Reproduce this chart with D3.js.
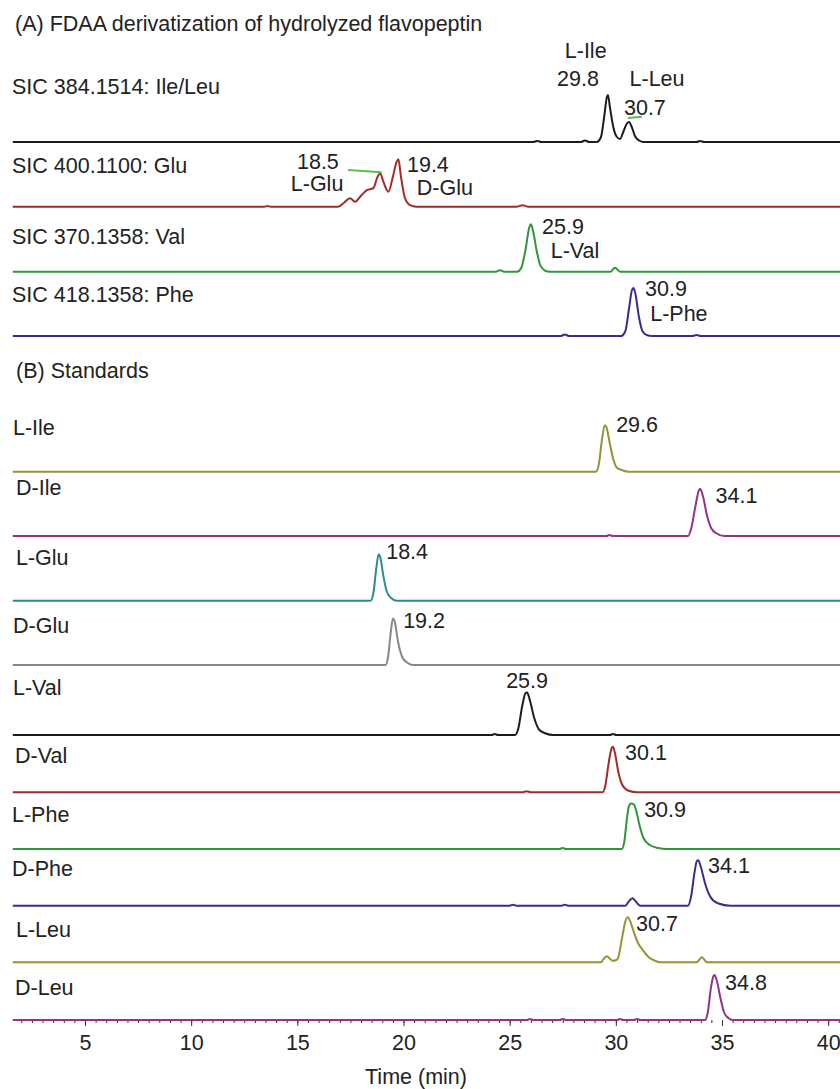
<!DOCTYPE html>
<html>
<head>
<meta charset="utf-8">
<script src="https://cdn.jsdelivr.net/npm/d3@7"></script>
<style>
    body { margin: 0; background: #fff; }
    text { font-family: "Liberation Sans", Arial, sans-serif; fill: #222; }
</style>
</head>
<body>
<script>
// ---------------------------------------------------------------------------
// Data: each trace is a list of [time (min), relative intensity] read off
// the picture. 100 is a full height peak.
// ---------------------------------------------------------------------------
var panelTitles = ["(A) FDAA derivatization of hydrolyzed flavopeptin",
                   "(B) Standards"];

var sampleNames = ["SIC 384.1514: Ile/Leu", "SIC 400.1100: Glu",
                   "SIC 370.1358: Val", "SIC 418.1358: Phe"];

var standardNames = ["L-Ile", "D-Ile", "L-Glu", "D-Glu", "L-Val",
                     "D-Val", "L-Phe", "D-Phe", "L-Leu", "D-Leu"];

var sicIleLeu = [[1.6, 0], [26.1, 0], [26.3, 2], [26.5, 0], [28.35, 0],
    [28.55, 3], [28.75, 0], [29.1, 0], [29.3, 10], [29.45, 50], [29.58, 90],
    [29.63, 94], [29.72, 70], [29.88, 30], [30.05, 10], [30.2, 6],
    [30.35, 20], [30.52, 37], [30.62, 40], [30.75, 30], [30.9, 12],
    [31.1, 3], [31.3, 0], [33.8, 0], [33.97, 2], [34.15, 0], [40.56, 0]];

var sicGlu = [[1.6, 0], [13.45, 0], [13.6, 1.5], [13.75, 0], [16.93, 0],
    [17.2, 8], [17.48, 17], [17.72, 10], [18.0, 22], [18.27, 33],
    [18.58, 37], [18.78, 60], [18.9, 67], [19.05, 50], [19.29, 30],
    [19.5, 60], [19.68, 90], [19.76, 95], [19.88, 60], [20.07, 17],
    [20.31, 3], [20.6, 0], [25.35, 0], [25.6, 3], [25.85, 0], [40.56, 0]];

var sicVal = [[1.6, 0], [24.35, 0], [24.55, 3], [24.75, 0], [25.35, 0],
    [25.55, 8], [25.75, 45], [25.92, 88], [26.0, 95], [26.1, 82],
    [26.28, 40], [26.45, 12], [26.67, 2], [26.9, 0], [29.75, 0],
    [29.96, 8], [30.2, 0], [40.56, 0]];

var sicPhe = [[1.6, 0], [27.4, 0], [27.6, 3], [27.8, 0], [30.25, 0],
    [30.45, 10], [30.62, 55], [30.76, 92], [30.83, 96], [30.92, 85],
    [31.08, 40], [31.25, 10], [31.45, 2], [31.7, 0], [33.6, 0], [33.8, 2],
    [34.0, 0], [40.56, 0]];

var stdLIle = [[1.6, 0], [29.05, 0], [29.2, 15], [29.35, 65], [29.48, 93],
    [29.55, 90], [29.7, 60], [29.88, 25], [30.05, 8], [30.3, 3], [30.6, 0],
    [40.56, 0]];

var stdDIle = [[1.6, 0], [29.55, 0], [29.7, 2], [29.85, 0], [33.4, 0],
    [33.55, 15], [33.75, 60], [33.92, 92], [33.98, 94], [34.1, 80],
    [34.3, 40], [34.5, 15], [34.75, 5], [35.1, 0], [40.56, 0]];

var stdLGlu = [[1.6, 0], [18.45, 0], [18.58, 15], [18.72, 65], [18.83, 93],
    [18.9, 88], [19.05, 50], [19.2, 20], [19.4, 6], [19.68, 0], [40.56, 0]];

var stdDGlu = [[1.6, 0], [19.15, 0], [19.27, 15], [19.4, 65], [19.5, 93],
    [19.58, 88], [19.75, 45], [19.95, 15], [20.2, 4], [20.45, 0],
    [40.56, 0]];

var stdLVal = [[1.6, 0], [24.15, 0], [24.3, 2], [24.45, 0], [25.25, 0],
    [25.4, 12], [25.6, 60], [25.75, 84], [25.82, 85], [25.95, 70],
    [26.15, 35], [26.4, 10], [26.7, 3], [27.05, 0], [29.72, 0],
    [29.87, 2], [30.02, 0], [40.56, 0]];

var stdDVal = [[1.6, 0], [25.6, 0], [25.8, 2], [26.0, 0], [29.38, 0],
    [29.5, 12], [29.65, 55], [29.8, 88], [29.86, 91], [29.95, 80],
    [30.12, 40], [30.3, 15], [30.6, 3], [31.0, 0], [40.56, 0]];

var stdLPhe = [[1.6, 0], [27.35, 0], [27.5, 2], [27.65, 0], [30.28, 0],
    [30.4, 15], [30.52, 60], [30.62, 86], [30.72, 91], [30.85, 89],
    [30.95, 78], [31.1, 50], [31.3, 22], [31.6, 8], [32.0, 2], [32.4, 0],
    [40.56, 0]];

var stdDPhe = [[1.6, 0], [25.0, 0], [25.16, 2], [25.3, 0], [27.45, 0],
    [27.6, 2], [27.75, 0], [30.45, 0], [30.6, 8], [30.78, 15], [30.95, 8],
    [31.15, 0], [33.4, 0], [33.55, 20], [33.7, 65], [33.82, 90],
    [33.88, 91], [34.0, 78], [34.2, 45], [34.45, 18], [34.8, 5], [35.4, 0],
    [40.56, 0]];

var stdLLeu = [[1.6, 0], [29.3, 0], [29.45, 8], [29.57, 12], [29.7, 8],
    [29.85, 3], [30.0, 4], [30.1, 8], [30.3, 50], [30.45, 82], [30.56, 90],
    [30.68, 82], [30.85, 60], [31.05, 38], [31.28, 24], [31.55, 10],
    [31.85, 3], [32.1, 0], [33.8, 0], [34.05, 10], [34.3, 0], [40.56, 0]];

var stdDLeu = [[1.6, 0], [25.8, 0], [25.96, 2], [26.1, 0], [27.35, 0],
    [27.5, 2], [27.65, 0], [30.05, 0], [30.2, 2], [30.35, 0], [30.85, 0],
    [31.0, 2], [31.15, 0], [34.2, 0], [34.33, 15], [34.48, 65], [34.6, 88],
    [34.65, 90], [34.75, 80], [34.92, 45], [35.1, 15], [35.3, 4],
    [35.5, 0], [40.56, 0]];

var sampleTraces = [sicIleLeu, sicGlu, sicVal, sicPhe];
var standardTraces = [stdLIle, stdDIle, stdLGlu, stdDGlu, stdLVal,
                      stdDVal, stdLPhe, stdDPhe, stdLLeu, stdDLeu];

// peak annotations
var sampleNotes = [["L-Ile", "29.8", "L-Leu", "30.7"],
                   ["18.5", "L-Glu", "19.4", "D-Glu"],
                   ["25.9", "L-Val"],
                   ["30.9", "L-Phe"]];
var standardNotes = ["29.6", "34.1", "18.4", "19.2", "25.9",
                     "30.1", "30.9", "34.1", "30.7", "34.8"];

// axis
var majorTicks = [5, 10, 15, 20, 25, 30, 35, 40];
var axisTitle = "Time (min)";

// ---------------------------------------------------------------------------
// Layout
// ---------------------------------------------------------------------------
var width = 840, height = 1089;

var sampleBase = [142, 206.7, 271.7, 336];
var standardBase = [471.7, 536, 600.7, 665, 735, 792.3, 849, 905.7,
                    962.3, 1020];
var sampleColors = ["#1c1c1c", "#a02c2a", "#2f963c", "#3b2b8e"];
var standardColors = ["#949434", "#943287", "#2e8c8c", "#8d8782",
                      "#1c1c1c", "#a02c2a", "#2f963c", "#3b2b8e",
                      "#949434", "#943287"];

// name label left x / caps centre y
var sampleNamePos = [[12, 86.7], [12, 165], [12, 236.7], [12, 294]];
var standardNamePos = [[13, 427], [16, 487], [16, 557], [13, 625],
                       [13, 687], [15, 755], [12, 814], [12, 868],
                       [16, 929], [15, 987]];

// note centres: [time, px above baseline]
var sampleNotePos = [[[28.58, 92], [28.22, 64], [31.94, 64], [31.37, 35]],
                     [[15.97, 45.5], [15.93, 23], [21.15, 42.7],
                      [21.95, 19.7]],
                     [[27.51, 45.7], [28.08, 21.7]],
                     [[32.36, 48], [32.97, 23]]];
var standardNotePos = [[31.0, 47.7], [35.68, 41], [20.17, 49],
                       [20.97, 44.3], [25.82, 55], [31.42, 39.6],
                       [32.32, 40], [35.33, 40.7], [31.94, 39.3],
                       [36.13, 37.3]];
// green leader lines: [[t1, h1], [t2, h2]], panel A trace index
var leaders = [{trace: 0, pts: [[30.57, 24], [31.23, 25.3]]},
               {trace: 1, pts: [[17.39, 36.7], [18.97, 34.4]]}];

var fontSize = "21.5px";

var svg = d3.select("body").append("svg")
    .attr("width", width)
    .attr("height", height);

var xScale = d3.scaleLinear().domain([5, 35]).range([85, 722]);
var yScale = d3.scaleLinear().domain([0, 100]).range([0, -50]);

var line = d3.line()
    .x(function(d) { return xScale(d[0]); })
    .y(function(d) { return yScale(d[1]); })
    .curve(d3.curveMonotoneX);

// panel titles
svg.append("text").attr("x", 15).attr("y", 23).attr("dy", "0.36em")
    .style("font-size", fontSize).text(panelTitles[0]);
svg.append("text").attr("x", 16).attr("y", 370).attr("dy", "0.36em")
    .style("font-size", fontSize).text(panelTitles[1]);

// x axis under the last trace
var axisY = standardBase[standardBase.length - 1];
var minorAxis = d3.axisBottom(xScale)
    .tickValues(d3.range(2, 40.6, 0.5))
    .tickSize(3)
    .tickFormat("");
var majorAxis = d3.axisBottom(xScale)
    .tickValues(majorTicks)
    .tickSize(6)
    .tickPadding(9)
    .tickFormat(d3.format("d"));

var gMinor = svg.append("g")
    .attr("transform", "translate(0," + axisY + ")")
    .call(minorAxis);
gMinor.select(".domain").remove();
gMinor.selectAll("line").attr("stroke", "#3a2a3a").attr("stroke-width", 1);

var gMajor = svg.append("g")
    .attr("transform", "translate(0," + axisY + ")")
    .call(majorAxis);
gMajor.select(".domain").remove();
gMajor.selectAll("line").attr("stroke", "#3a2a3a").attr("stroke-width", 1);
gMajor.selectAll("text")
    .style("font-size", fontSize)
    .style("font-family", "'Liberation Sans', Arial, sans-serif")
    .attr("fill", "#222");

svg.append("text")
    .attr("x", 416).attr("y", 1076).attr("dy", "0.36em")
    .attr("text-anchor", "middle")
    .style("font-size", fontSize)
    .text(axisTitle);

// draw a stack of traces
function drawStack(traces, bases, colors, names, namePos) {
    traces.forEach(function(tr, i) {
        var g = svg.append("g")
            .attr("transform", "translate(0," + bases[i] + ")");
        g.append("path")
            .datum(tr)
            .attr("d", line)
            .attr("fill", "none")
            .attr("stroke", colors[i])
            .attr("stroke-width", 2)
            .attr("stroke-linejoin", "round");
        svg.append("text")
            .attr("x", namePos[i][0])
            .attr("y", namePos[i][1])
            .attr("dy", "0.36em")
            .style("font-size", fontSize)
            .text(names[i]);
    });
}

drawStack(sampleTraces, sampleBase, sampleColors, sampleNames,
          sampleNamePos);
drawStack(standardTraces, standardBase, standardColors, standardNames,
          standardNamePos);

// leaders
leaders.forEach(function(l) {
    svg.append("line")
        .attr("x1", xScale(l.pts[0][0]))
        .attr("y1", sampleBase[l.trace] - l.pts[0][1])
        .attr("x2", xScale(l.pts[1][0]))
        .attr("y2", sampleBase[l.trace] - l.pts[1][1])
        .attr("stroke", "#5cc04a")
        .attr("stroke-width", 2);
});

// peak notes
sampleNotes.forEach(function(notes, i) {
    notes.forEach(function(txt, j) {
        var p = sampleNotePos[i][j];
        svg.append("text")
            .attr("x", xScale(p[0]))
            .attr("y", sampleBase[i] - p[1])
            .attr("dy", "0.36em")
            .attr("text-anchor", "middle")
            .style("font-size", fontSize)
            .text(txt);
    });
});
standardNotes.forEach(function(txt, i) {
    var p = standardNotePos[i];
    svg.append("text")
        .attr("x", xScale(p[0]))
        .attr("y", standardBase[i] - p[1])
        .attr("dy", "0.36em")
        .attr("text-anchor", "middle")
        .style("font-size", fontSize)
        .text(txt);
});
</script>
</body>
</html>
